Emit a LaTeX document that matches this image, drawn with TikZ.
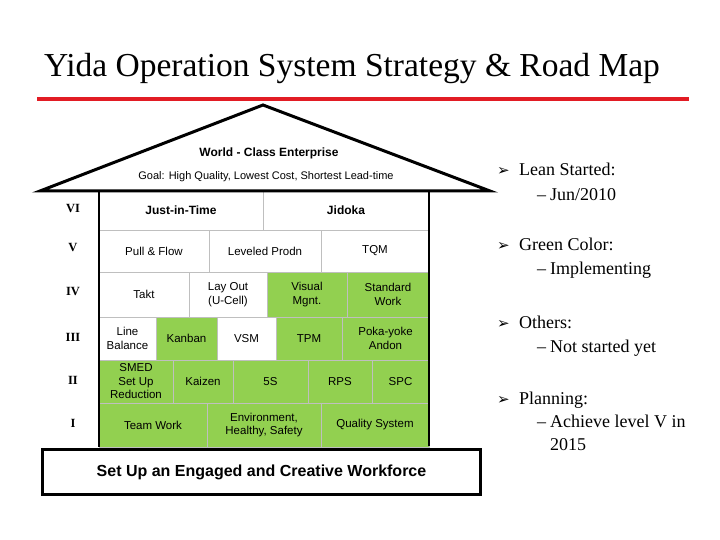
\documentclass[tikz,border=0pt]{standalone}
\usepackage{fontspec}
\usepackage{tikz}
\usetikzlibrary{positioning}
\newfontfamily\yidasans{Liberation Sans}
\newfontfamily\yidaserif{Liberation Serif}
\newfontfamily\yidasym{DejaVu Sans}
\definecolor{leangreen}{RGB}{146,208,80}
\definecolor{cellgray}{RGB}{191,191,191}
\definecolor{roadred}{RGB}{226,28,36}
\tikzset{
  cell/.style={draw=cellgray, line width=0.9pt, fill=white, inner sep=0pt, outer sep=0pt,
    align=center, font=\yidasans\fontsize{11.5}{13.5}\selectfont},
  done/.style={cell, fill=leangreen},
  head/.style={cell, font=\yidasans\bfseries\fontsize{12}{14}\selectfont},
  lvl/.style={font=\yidaserif\bfseries\fontsize{12.5}{14}\selectfont},
  note/.style={anchor=west, inner sep=0pt, align=left, font=\yidaserif\fontsize{18}{23}\selectfont},
}
\newcommand{\bul}{\makebox[22pt][l]{\yidasym\fontsize{15}{15}\selectfont ➢}}
\newcommand{\dsh}{\makebox[13pt][l]{–}}
\begin{document}
\begin{tikzpicture}[x=1pt,y=-1pt]
  \useasboundingbox (0,0) rectangle (720,540);

  % Title
  \node[font=\yidaserif\fontsize{33.5}{36}\selectfont] (title) at (352,68) {Yida Operation System Strategy \& Road Map};
  \draw[roadred, line width=4pt] (37,99) -- (689,99);

  % Level VI
  \node[head, minimum width=164, minimum height=40] (jit) at (181,210) {Just-in-Time};
  \node[head, minimum width=166, minimum height=40] (jidoka) at (346,210) {Jidoka};

  % Level V
  \node[cell, minimum width=110, minimum height=42] (pull) at (154,251) {Pull \& Flow};
  \node[cell, minimum width=112, minimum height=42] (leveled) at (265,251) {Leveled Prodn};
  \node[cell, minimum width=108, minimum height=42] (tqm) at (375,251) {TQM};

  % Level IV
  \node[cell, minimum width=90, minimum height=45] (takt) at (144,294.5) {Takt};
  \node[cell, minimum width=78, minimum height=45] (layout) at (228,294.5) {Lay Out\\(U-Cell)};
  \node[done, minimum width=80, minimum height=45] (visual) at (307,294.5) {Visual\\Mgnt.};
  \node[done, minimum width=82, minimum height=45] (standard) at (388,294.5) {Standard\\Work};

  % Level III
  \node[cell, minimum width=57, minimum height=43] (linebal) at (127.5,338.5) {Line\\Balance};
  \node[done, minimum width=61, minimum height=43] (kanban) at (186.5,338.5) {Kanban};
  \node[cell, minimum width=59, minimum height=43] (vsm) at (246.5,338.5) {VSM};
  \node[done, minimum width=66, minimum height=43] (tpm) at (309,338.5) {TPM};
  \node[done, minimum width=87, minimum height=43] (poka) at (385.5,338.5) {Poka-yoke\\Andon};

  % Level II
  \node[done, minimum width=74, minimum height=43] (smed) at (136,381.5) {SMED\\Set Up\\Reduction};
  \node[done, minimum width=60, minimum height=43] (kaizen) at (203,381.5) {Kaizen};
  \node[done, minimum width=75, minimum height=43] (fives) at (270.5,381.5) {5S};
  \node[done, minimum width=64, minimum height=43] (rps) at (340,381.5) {RPS};
  \node[done, minimum width=57, minimum height=43] (spc) at (400.5,381.5) {SPC};

  % Level I
  \node[done, minimum width=108, minimum height=44] (team) at (153,425) {Team Work};
  \node[done, minimum width=114, minimum height=44] (env) at (264,425) {Environment,\\Healthy, Safety};
  \node[done, minimum width=108, minimum height=44] (quality) at (375,425) {Quality System};

  % House frame and roof
  \draw[line width=1.2pt] (99,191) -- (99,447);
  \draw[line width=1.2pt] (429,191) -- (429,446);
  \draw[line width=3pt, line join=miter] (40,191) -- (263,105) -- (490,191) -- cycle;
  \node[font=\yidasans\bfseries\fontsize{12}{14}\selectfont] (world) at (269,153) {World - Class Enterprise};
  \node[font=\yidasans\fontsize{11}{13}\selectfont] (goal) at (266,177) {Goal: High Quality, Lowest Cost, Shortest Lead-time};

  % Foundation
  \node[draw, line width=3.5pt, minimum width=438, minimum height=45, inner sep=0pt,
    font=\yidasans\bfseries\fontsize{16}{18}\selectfont] (base) at (261.5,472) {Set Up an Engaged and Creative Workforce};

  % Levels
  \node[lvl] (lvlvi) at (73,209) {VI};
  \node[lvl] (lvlv) at (73,248) {V};
  \node[lvl] (lvliv) at (73,292) {IV};
  \node[lvl] (lvliii) at (73,337) {III};
  \node[lvl] (lvlii) at (73,380) {II};
  \node[lvl] (lvli) at (73,423) {I};

  % Status notes (right side)
  \node[note] (lean) at (497,169) {\bul Lean Started:};
  \node[note] (leandate) at (537,195) {\dsh Jun/2010};
  \node[note] (green) at (497,244) {\bul Green Color:};
  \node[note] (greenmean) at (537,270) {\dsh Implementing};
  \node[note] (others) at (497,322) {\bul Others:};
  \node[note] (othersmean) at (537,348) {\dsh Not started yet};
  \node[note] (plan) at (497,400) {\bul Planning:};
  \node[note, anchor=north west] (plangoal) at (537,415) {\dsh Achieve level V in\\\hspace*{13pt}2015};
\end{tikzpicture}
\end{document}
